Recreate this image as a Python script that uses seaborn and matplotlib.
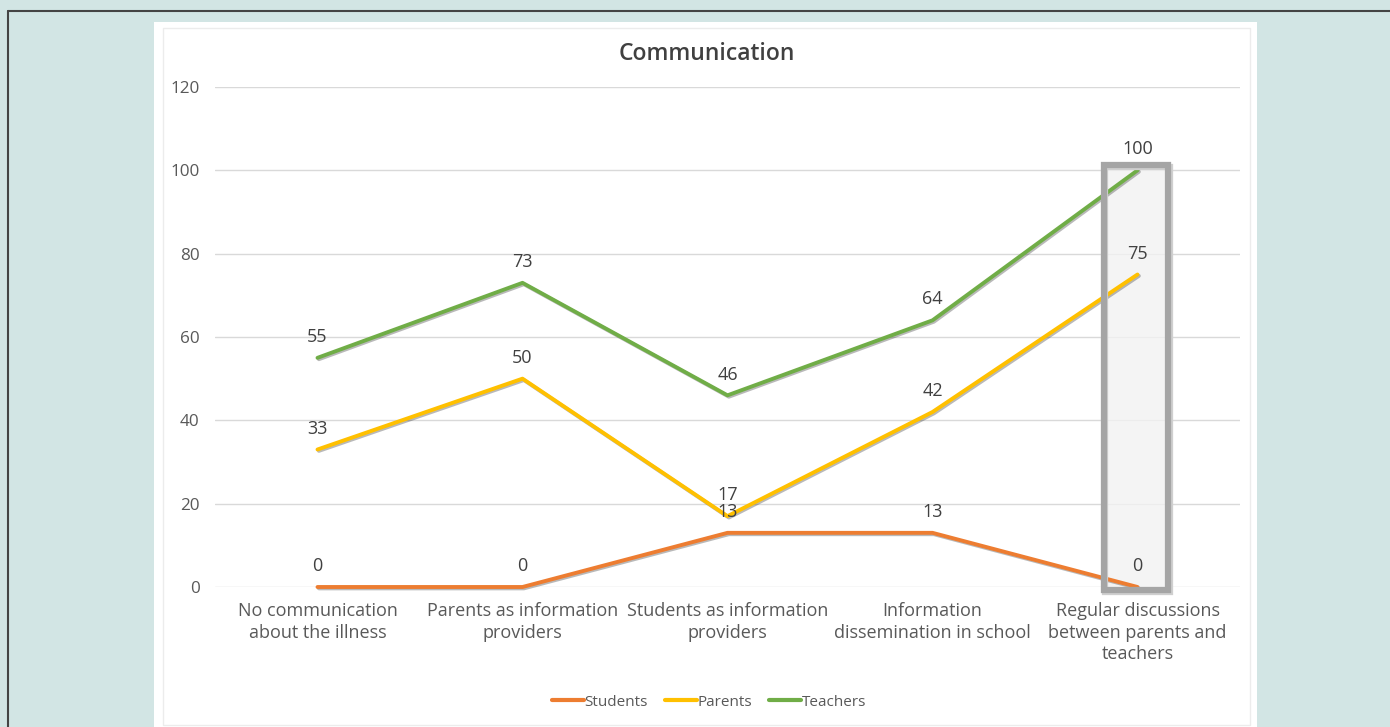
import pandas as pd
import matplotlib
matplotlib.use('Agg')
import matplotlib.pyplot as plt
import matplotlib.patheffects as pe
from matplotlib.patches import Rectangle
from matplotlib.lines import Line2D
import seaborn as sns

#
# Chart data
#

categories = ['No communication\nabout the illness',
              'Parents as information\nproviders',
              'Students as information\nproviders',
              'Information\ndissemination in school',
              'Regular discussions\nbetween parents and\nteachers']

students = [0, 0, 13, 13, 0]
parents = [33, 50, 17, 42, 75]
teachers = [55, 73, 46, 64, 100]

series_names = ['Students', 'Parents', 'Teachers']
colors = {'Students': '#ED7D31', 'Parents': '#FFC000', 'Teachers': '#70AD47'}

df = pd.DataFrame({'category': categories * 3,
                   'value': students + parents + teachers,
                   'series': [s for s in series_names for _ in categories]})

#
# Figure
#

sns.set_theme(style='white')
plt.rcParams['font.family'] = ['Open Sans', 'DejaVu Sans']
txt = '#595959'

fig = plt.figure(figsize=(13.9, 7.27), dpi=100)
fig.patch.set_facecolor('#d2e5e4')

# white chart panel + faint border
fig.patches.append(Rectangle((154 / 1390, 0), (1257 - 154) / 1390, 1 - 22 / 727,
                             transform=fig.transFigure, facecolor='white',
                             edgecolor='none', zorder=-2))
fig.patches.append(Rectangle((163 / 1390, 2 / 727), (1250 - 163) / 1390, 1 - 30 / 727,
                             transform=fig.transFigure, facecolor='none',
                             edgecolor='#ececec', lw=1, zorder=-1))
# dark outer frame (top and left)
fig.lines.append(Line2D([8 / 1390, 1], [1 - 11 / 727, 1 - 11 / 727],
                        transform=fig.transFigure, color='#444444', lw=1.5))
fig.lines.append(Line2D([8 / 1390, 8 / 1390], [0, 1 - 11 / 727],
                        transform=fig.transFigure, color='#444444', lw=1.5))

ax = fig.add_axes([215 / 1390, 1 - 587 / 727, 1025 / 1390, 500 / 727])
ax.set_facecolor('none')
ax.set_zorder(3)

sns.lineplot(data=df, x='category', y='value', hue='series', palette=colors,
             sort=False, lw=2.8, ax=ax, legend=False, zorder=4,
             path_effects=[pe.SimpleLineShadow(offset=(1, -1), alpha=0.3), pe.Normal()])
for ln in ax.lines:
    ln.set_clip_on(False)

ax.set_xlim(-0.5, 4.5)
ax.set_ylim(0, 120)
ax.set_yticks(range(0, 121, 20))
ax.yaxis.grid(True, color='#d9d9d9', lw=1)
ax.xaxis.grid(False)
for sp in ax.spines.values():
    sp.set_visible(False)
ax.tick_params(axis='both', length=0, labelcolor=txt)
ax.tick_params(axis='y', pad=11, labelsize=12.3)
ax.tick_params(axis='x', pad=11, labelsize=13)
for lab in ax.get_xticklabels():
    lab.set_linespacing(1.25)
ax.set_xlabel('')
ax.set_ylabel('')

# data labels
for name, vals in zip(series_names, [students, parents, teachers]):
    for i, v in enumerate(vals):
        ax.annotate(str(v), (i, v), xytext=(0, 15), textcoords='offset points',
                    ha='center', va='center', fontsize=13, color='#404040', zorder=6)

# highlight box around the last category
ax.add_patch(Rectangle((4 - 0.165, -0.7), 0.316, 101.9, facecolor='#f2f2f2',
                       edgecolor='none', alpha=0.8, zorder=1, clip_on=False))
ax.add_patch(Rectangle((4 - 0.165 + 0.006, -1.2), 0.316, 101.9, facecolor='none',
                       edgecolor='#cfcfcf', lw=4.5, zorder=5, clip_on=False))
ax.add_patch(Rectangle((4 - 0.165, -0.7), 0.316, 101.9, facecolor='none',
                       edgecolor='#a5a5a5', lw=4.5, zorder=5, clip_on=False))

fig.text(707 / 1390, 1 - 54 / 727, 'Communication', ha='center', va='center',
         fontsize=16.5, fontweight='semibold', color='#404040')

handles = [Line2D([], [], color=colors[s], lw=3) for s in series_names]
fig.legend(handles, series_names, loc='center', bbox_to_anchor=(709 / 1390, 1 - 702 / 727),
           ncol=3, frameon=False, fontsize=11, handlelength=2.1, handletextpad=0.05,
           columnspacing=1.1, labelcolor=txt)

plt.savefig('out.png', dpi=100, facecolor=fig.get_facecolor())
